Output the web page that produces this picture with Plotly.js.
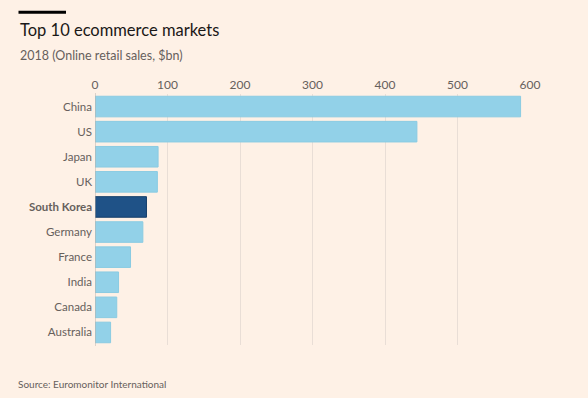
<!DOCTYPE html>
<html>
<head>
<meta charset="utf-8">
<script src="https://cdn.plot.ly/plotly-3.0.1.min.js"></script>
<style>
html,body{margin:0;padding:0;background:#FEF1E6;}
#chart{width:588px;height:398px;}
</style>
</head>
<body>
<div id="chart"></div>
<script>
const countries = ["China","US","Japan","UK","South Korea","Germany","France","India","Canada","Australia"];
const sales = [587, 444, 87, 86, 71, 66, 49, 32.5, 30, 21.5];
const highlight = "South Korea";
const xTicks = [0,100,200,300,400,500,600];

const W = 588, H = 398;
const M = {l:95, r:58, t:94, b:53};
const pw = W - M.l - M.r, ph = H - M.t - M.b;
const px2x = p => (p - M.l) / pw;
const py2y = p => 1 - (p - M.t) / ph;

const labels = countries.map(c => c === highlight ? "<b>" + c + "</b>" : c);
const colors = countries.map(c => c === highlight ? "#1F5287" : "#92D1E8");
const lineColors = countries.map(c => c === highlight ? "#163F6B" : "#8ACBE2");

const trace = {
  type: "bar",
  orientation: "h",
  y: labels,
  x: sales,
  marker: {color: colors, line: {color: lineColors, width: 1}},
  hoverinfo: "x+y"
};

const font = "Lato, 'Open Sans', sans-serif";

const layout = {
  width: W, height: H,
  margin: M,
  paper_bgcolor: "#FEF1E6",
  plot_bgcolor: "#FEF1E6",
  showlegend: false,
  bargap: 0.18,
  font: {family: font, color: "#66605C", size: 12},
  xaxis: {
    side: "top",
    range: [0, 600],
    tickvals: xTicks,
    ticktext: xTicks.map(String),
    showgrid: true,
    gridcolor: "#E9DED6",
    gridwidth: 1,
    zeroline: false,
    showline: false,
    ticks: "",
    ticklabelstandoff: 2,
    tickfont: {family: font, size: 12, color: "#66605C"},
    fixedrange: true
  },
  yaxis: {
    autorange: "reversed",
    type: "category",
    showgrid: false,
    zeroline: false,
    showline: false,
    ticks: "",
    ticklabelstandoff: 2,
    tickfont: {family: font, size: 11.5, color: "#66605C"},
    fixedrange: true
  },
  shapes: [
    {type: "line", xref: "paper", yref: "paper",
     x0: px2x(18.5), x1: px2x(66), y0: py2y(12.3), y1: py2y(12.3),
     line: {color: "#000000", width: 3}},
    {type: "line", xref: "x", yref: "paper",
     x0: 0, x1: 0, y0: py2y(346), y1: py2y(93),
     line: {color: "#B9B1AA", width: 1}}
  ],
  annotations: [
    {xref: "paper", yref: "paper", x: px2x(17.5), y: py2y(30), xanchor: "left", yanchor: "middle",
     text: "Top 10 ecommerce markets", showarrow: false,
     font: {family: font, size: 16.5, color: "#1A1817"}},
    {xref: "paper", yref: "paper", x: px2x(17.5), y: py2y(56), xanchor: "left", yanchor: "middle",
     text: "2018 (Online retail sales, $bn)", showarrow: false,
     font: {family: font, size: 12.5, color: "#66605C"}},
    {xref: "paper", yref: "paper", x: px2x(15.5), y: py2y(384), xanchor: "left", yanchor: "middle",
     text: "Source: Euromonitor International", showarrow: false,
     font: {family: font, size: 10, color: "#66605C"}}
  ]
};

Plotly.newPlot("chart", [trace], layout, {displayModeBar: false, staticPlot: true});
</script>
</body>
</html>
